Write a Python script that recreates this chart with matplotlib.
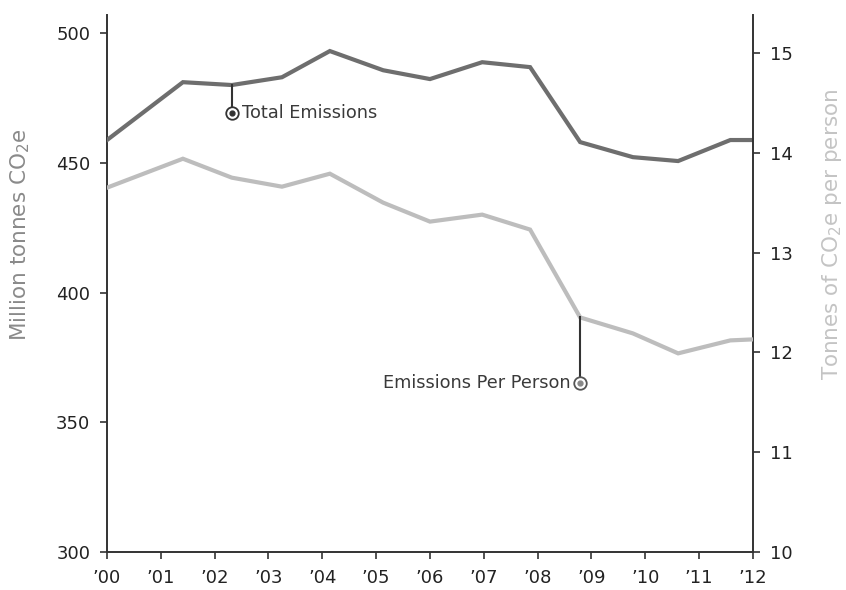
import matplotlib
matplotlib.use("Agg")
import matplotlib.pyplot as plt

# x positions of the data points on the '00..'12 axis
x_pos = [0, 1.41, 2.32, 3.25, 4.14, 5.13, 6.0, 6.97, 7.86, 8.79, 9.77, 10.61, 11.58, 12]
total = [458.8, 481.1, 480.0, 483.0, 493.1, 485.7, 482.3, 488.8, 486.9, 458.0, 452.2, 450.7, 458.8, 458.8]
per_person = [13.65, 13.94, 13.75, 13.66, 13.79, 13.50, 13.31, 13.38, 13.23, 12.35, 12.19, 11.99, 12.12, 12.13]
year_labels = ["\u201900", "\u201901", "\u201902", "\u201903", "\u201904", "\u201905", "\u201906",
               "\u201907", "\u201908", "\u201909", "\u201910", "\u201911", "\u201912"]
left_ticks = [300, 350, 400, 450, 500]
right_ticks = [10, 11, 12, 13, 14, 15]

dark = "#333333"
c_total = "#6e6e6e"
c_pp = "#bdbdbd"

plt.rcParams["font.family"] = ["DejaVu Sans"]

fig = plt.figure(figsize=(8.46, 5.90), dpi=100)
ax = fig.add_axes([0.1265, 0.0644, 0.7635, 0.9102])
ax2 = ax.twinx()

ax.plot(x_pos, total, color=c_total, lw=3.0, solid_joinstyle="miter", zorder=3)
ax2.plot(x_pos, per_person, color=c_pp, lw=3.0, solid_joinstyle="miter", zorder=3)

ax.set_xlim(0, 12)
ax.set_ylim(300, 507)
ax2.set_ylim(10, 15.38)

ax.set_xticks(range(13))
ax.set_xticklabels(year_labels)
ax.set_yticks(left_ticks)
ax2.set_yticks(right_ticks)

for a in (ax, ax2):
    a.spines["top"].set_visible(False)
    for s in a.spines.values():
        s.set_color(dark)
        s.set_linewidth(1.4)
    a.tick_params(colors=dark, labelcolor="#222222", length=5, width=1.2,
                  labelsize=13, pad=7)
ax.spines["right"].set_visible(False)
ax2.spines["left"].set_visible(False)
ax2.spines["bottom"].set_visible(False)

# annotations
ax.plot([2.32, 2.32], [480.0, 469.2], color=dark, lw=1.5, zorder=4)
ax.plot([2.32], [469.2], marker="o", ms=9, mfc="white", mec=dark, mew=1.3, zorder=5)
ax.plot([2.32], [469.2], marker="o", ms=3.5, color=dark, zorder=6)
ax.text(2.5, 469.2, "Total Emissions", fontsize=12.8, color="#3a3a3a", va="center", ha="left")

ax2.plot([8.79, 8.79], [12.35, 11.69], color=dark, lw=1.5, zorder=4)
ax2.plot([8.79], [11.69], marker="o", ms=9, mfc="white", mec="#555555", mew=1.3, zorder=5)
ax2.plot([8.79], [11.69], marker="o", ms=3.5, color="#888888", zorder=6)
ax2.text(8.62, 11.69, "Emissions Per Person", fontsize=12.8, color="#3a3a3a", va="center", ha="right")

fig.text(0.024, 0.602, "Million tonnes CO$_2$e", rotation=90, va="center", ha="center",
         fontsize=15.5, color="#8a8a8a")
fig.text(0.983, 0.602, "Tonnes of CO$_2$e per person", rotation=90, va="center", ha="center",
         fontsize=15.5, color="#c4c4c4")

fig.savefig("out.png", dpi=100)
